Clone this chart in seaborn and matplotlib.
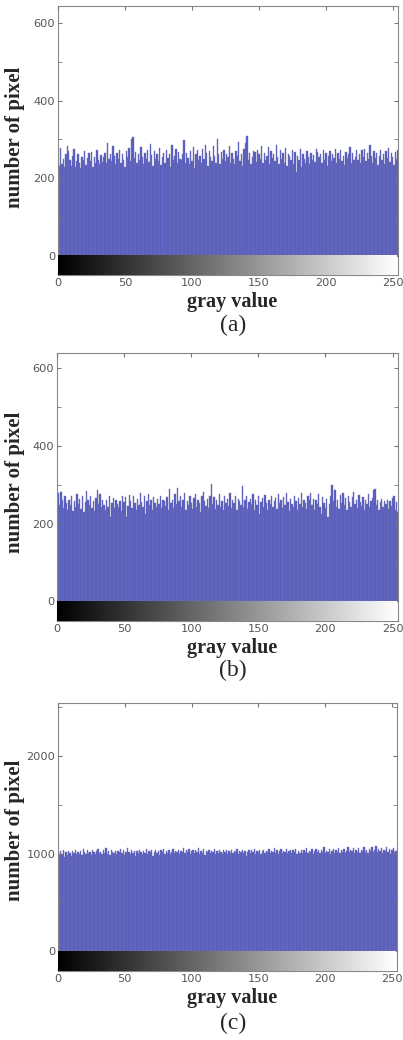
import numpy as np
import matplotlib
matplotlib.use("Agg")
import matplotlib.pyplot as plt
import seaborn as sns
from matplotlib.ticker import MultipleLocator

# gray levels (histogram bins)
gray = np.arange(256)

# pixel counts per gray level, panel (a)
counts_a = [
    240, 232, 278, 236, 250, 228, 262, 284, 270, 246, 232, 258, 276, 228, 244, 262,
    238, 226, 256, 248, 270, 234, 252, 264, 244, 268, 230, 256, 240, 272, 248, 236,
    260, 242, 254, 266, 238, 290, 250, 262, 244, 282, 258, 236, 266, 250, 274, 240,
    262, 248, 230, 270, 256, 278, 244, 300, 306, 252, 268, 238, 262, 246, 280, 254,
    236, 266, 250, 274, 242, 288, 260, 232, 270, 250, 262, 244, 278, 234, 256, 266,
    240, 272, 252, 262, 230, 286, 248, 258, 276, 238, 268, 250, 246, 262, 298, 240,
    264, 252, 236, 270, 244, 280, 226, 262, 272, 248, 258, 238, 276, 250, 286, 264,
    232, 270, 254, 244, 282, 258, 240, 300, 262, 236, 268, 250, 272, 244, 262, 254,
    282, 240, 266, 250, 236, 270, 258, 294, 244, 262, 232, 276, 290, 310, 248, 266,
    236, 254, 270, 268, 242, 272, 262, 250, 284, 238, 266, 248, 258, 280, 236, 270,
    252, 262, 244, 286, 256, 236, 272, 250, 266, 240, 278, 232, 262, 258, 246, 272,
    236, 268, 216, 258, 248, 276, 230, 262, 250, 240, 270, 254, 236, 266, 248, 260,
    242, 276, 268, 254, 262, 240, 272, 248, 266, 232, 258, 270, 244, 262, 252, 276,
    238, 264, 250, 272, 244, 258, 234, 268, 252, 262, 280, 240, 266, 248, 256, 274,
    246, 262, 238, 272, 254, 276, 244, 266, 250, 286, 258, 240, 270, 252, 264, 234,
    258, 272, 246, 262, 236, 270, 252, 278, 242, 264, 256, 234, 268, 250, 272, 240,
]

# panel (b)
counts_b = [
    256, 278, 248, 282, 262, 240, 270, 254, 236, 262, 248, 270, 232, 258, 244, 276,
    250, 264, 238, 270, 230, 256, 284, 262, 248, 272, 240, 258, 232, 266, 286, 250,
    276, 242, 262, 248, 236, 260, 244, 270, 216, 254, 266, 240, 262, 250, 244, 258,
    232, 272, 256, 268, 218, 246, 274, 258, 240, 270, 252, 236, 264, 248, 280, 256,
    242, 270, 226, 258, 276, 248, 262, 236, 268, 254, 244, 264, 250, 272, 240, 262,
    258, 246, 268, 234, 290, 254, 262, 240, 276, 250, 292, 258, 270, 244, 262, 280,
    236, 258, 248, 272, 252, 238, 266, 276, 244, 262, 254, 230, 270, 282, 258, 246,
    264, 240, 272, 302, 250, 268, 238, 262, 248, 276, 244, 258, 236, 270, 252, 264,
    246, 278, 240, 262, 252, 270, 234, 264, 258, 248, 296, 244, 262, 272, 238, 256,
    264, 250, 276, 236, 262, 248, 270, 226, 256, 266, 242, 274, 252, 236, 262, 250,
    272, 244, 258, 266, 238, 276, 254, 262, 240, 268, 248, 278, 256, 232, 264, 250,
    242, 272, 258, 236, 266, 250, 278, 244, 262, 254, 238, 272, 260, 280, 248, 264,
    234, 262, 250, 276, 242, 226, 268, 254, 240, 264, 218, 250, 272, 300, 258, 286,
    244, 262, 238, 274, 254, 280, 248, 266, 236, 272, 256, 244, 268, 282, 250, 262,
    240, 274, 256, 246, 268, 236, 262, 250, 276, 244, 258, 266, 286, 290, 248, 262,
    236, 256, 264, 244, 258, 250, 262, 238, 258, 246, 266, 272, 236, 256, 230, 260,
]

# panel (c)
counts_c = [
    1010, 982, 1024, 996, 1040, 968, 1012, 990, 1030, 1004, 976, 1022, 1008, 1036, 994, 1018,
    1000, 1028, 984, 1044, 1012, 996, 1032, 1006, 1020, 990, 1038, 1014, 998, 1026, 1048, 1004,
    1016, 992, 1034, 1010, 1058, 1000, 1024, 986, 1042, 1018, 1002, 1030, 994, 1026, 1012, 1050,
    1006, 1036, 988, 1020, 1062, 1014, 998, 1040, 1010, 1028, 980, 1024, 1004, 1034, 1016, 996,
    1030, 1008, 1044, 992, 1022, 1012, 1036, 976, 1018, 1040, 1002, 1026, 990, 1032, 1014, 1046,
    1000, 1024, 1010, 1038, 994, 1020, 1052, 1006, 1030, 1016, 1042, 998, 1026, 1012, 1060, 1004,
    1034, 1018, 1048, 996, 1022, 1040, 1008, 1032, 1014, 1054, 1000, 1028, 1010, 1044, 988, 1024,
    1016, 1038, 1002, 1030, 1012, 1046, 996, 1026, 1008, 1036, 1018, 1000, 1032, 1014, 1040, 992,
    1022, 1010, 1034, 1004, 1028, 1016, 1044, 998, 1024, 1012, 1038, 1002, 1030, 980, 1020, 1042,
    1008, 1032, 1016, 1050, 1000, 1026, 1012, 1040, 994, 1022, 1036, 1006, 1028, 1014, 1046, 1002,
    1030, 1018, 1058, 1006, 1034, 996, 1024, 1044, 1010, 1030, 1016, 1052, 1002, 1026, 1040, 1008,
    1032, 1014, 1048, 998, 1026, 1010, 1042, 1004, 1036, 1020, 1062, 1008, 1028, 1016, 1044, 1000,
    1024, 1050, 1012, 1034, 1002, 1040, 1018, 1064, 1006, 1030, 1014, 1046, 1000, 1026, 1052, 1010,
    1036, 1020, 1058, 1004, 1032, 1016, 1048, 1008, 1028, 1066, 1012, 1040, 1022, 1054, 1006, 1034,
    1018, 1060, 1010, 1038, 1024, 1070, 1014, 1042, 1002, 1050, 1026, 1064, 1012, 1036, 1074, 1018,
    1046, 1022, 1062, 1008, 1040, 1028, 1070, 1016, 1052, 1000, 1034, 1058, 1012, 1026, 1044, 1020,
]

x_ticks = [0, 50, 100, 150, 200, 250]

sns.set_style("ticks")
plt.rcParams.update({
    "xtick.direction": "in",
    "ytick.direction": "in",
    "xtick.top": True,
    "ytick.right": True,
    "xtick.major.size": 3,
    "ytick.major.size": 3,
    "ytick.minor.size": 3,
    "xtick.color": "#777777",
    "ytick.color": "#777777",
    "xtick.labelcolor": "#555555",
    "ytick.labelcolor": "#555555",
    "axes.edgecolor": "#888888",
    "axes.linewidth": 0.8,
})
plt.rcParams["font.family"] = ["DejaVu Sans"]

fig = plt.figure(figsize=(4.03, 10.4), dpi=100)

# (counts, axes rect, ylim, label step, caption, y of xlabel, y of caption, y of ylabel)
panels = [
    (counts_a, [0.144, 0.7356, 0.844, 0.2587], (-50, 645), 200, "(a)", 0.7096, 0.6875, 0.868),
    (counts_b, [0.1414, 0.4029, 0.846, 0.2577], (-51, 640), 200, "(b)", 0.3769, 0.3558, 0.5365),
    (counts_c, [0.144, 0.0663, 0.842, 0.2577], (-205, 2545), 1000, "(c)", 0.0404, 0.0163, 0.2019),
]

for counts, rect, ylim, step, cap, y_xl, y_cap, y_yl in panels:
    ax = fig.add_axes(rect)
    sns.histplot(x=gray, weights=counts, discrete=True, ax=ax,
                 color="#5559c3", edgecolor="#6f73b3", linewidth=0.3, alpha=1)
    # gray scale strip below zero
    strip = np.tile(gray, (2, 1))
    ax.imshow(strip, cmap="gray", aspect="auto", extent=(0, 253, ylim[0], 0),
              vmin=0, vmax=255, zorder=3)
    ax.set_xlim(0, 254)
    ax.set_ylim(*ylim)
    ax.set_xticks(x_ticks)
    ax.yaxis.set_major_locator(MultipleLocator(step))
    ax.yaxis.set_minor_locator(MultipleLocator(step / 2))
    ax.tick_params(labelsize=8.2, pad=2)
    ax.set_xlabel("")
    ax.set_ylabel("")
    for s in ax.spines.values():
        s.set_visible(True)
    ax.set_axisbelow(False)

    fig.text(0.575, y_xl, "gray value", ha="center", va="center",
             family="Liberation Serif", fontweight="bold", fontsize=14.5)
    fig.text(0.578, y_cap, cap, ha="center", va="center",
             family="Liberation Serif", fontsize=17)
    fig.text(0.037, y_yl, "number of pixel", ha="center", va="center", rotation=90,
             family="Liberation Serif", fontweight="bold", fontsize=15)

fig.savefig("out.png", dpi=100)
